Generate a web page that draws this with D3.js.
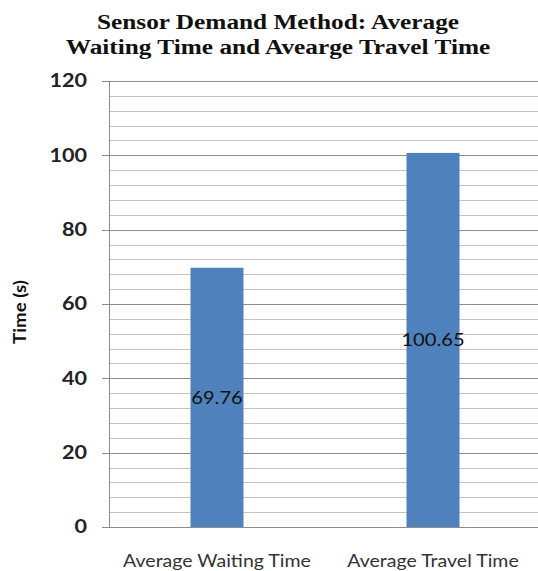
<!DOCTYPE html>
<html lang="en">
<head>
<meta charset="UTF-8">
<title>Sensor Demand Method</title>
<script src="https://d3js.org/d3.v7.min.js"></script>
<style>
    body { margin: 0; background: #fff; }
    .title { font-family: "Liberation Serif", serif; font-weight: bold; font-size: 22px; fill: #111; }
    .ytick { font-family: Lato, "Open Sans", sans-serif; font-weight: bold; font-size: 18px; fill: #222; }
    .xtick { font-family: Lato, "Open Sans", sans-serif; font-size: 17px; fill: #333; }
    .vlabel { font-family: Lato, "Open Sans", sans-serif; font-size: 18px; fill: #111; }
</style>
</head>
<body>
<svg width="538" height="571"></svg>
<script>
    // data
    const categories = ["Average Waiting Time", "Average Travel Time"];
    const values = [69.76, 100.65];
    const yTicks = [0, 20, 40, 60, 80, 100, 120];
    const titleLines = ["Sensor Demand Method: Average", "Waiting Time and Avearge Travel Time"];

    const svg = d3.select("svg");
    const plotLeft = 109, plotRight = 541, plotTop = 81, plotBottom = 527;
    const sx = 1.15; // the original picture is a bit stretched sideways

    const y = d3.scaleLinear().domain([0, 120]).range([plotBottom, plotTop]);
    const x = d3.scaleBand().domain(categories).range([plotLeft, plotRight]).paddingInner(0).paddingOuter(0);
    const barW = 53;

    // minor gridlines every 4
    const minor = d3.range(4, 121, 4).filter(v => v % 20 !== 0);
    svg.append("g").selectAll("line").data(minor).enter().append("line")
        .attr("x1", plotLeft).attr("x2", plotRight)
        .attr("y1", d => Math.round(y(d)) + 0.5).attr("y2", d => Math.round(y(d)) + 0.5)
        .attr("stroke", "#c4c4c4").attr("stroke-width", 1);

    // major gridlines
    svg.append("g").selectAll("line").data(yTicks.filter(d => d > 0)).enter().append("line")
        .attr("x1", plotLeft - 7).attr("x2", plotRight)
        .attr("y1", d => Math.round(y(d)) + 0.5).attr("y2", d => Math.round(y(d)) + 0.5)
        .attr("stroke", "#8c8c8c").attr("stroke-width", 1);

    // bars
    svg.append("g").selectAll("rect").data(values).enter().append("rect")
        .attr("x", (d, i) => x(categories[i]) + x.bandwidth() / 2 - barW / 2)
        .attr("width", barW)
        .attr("y", d => y(d))
        .attr("height", d => plotBottom - y(d))
        .attr("fill", "#4f81bd");

    // axes lines
    svg.append("line").attr("x1", plotLeft + 0.5).attr("x2", plotLeft + 0.5).attr("y1", plotTop).attr("y2", plotBottom)
        .attr("stroke", "#8c8c8c");
    svg.append("line").attr("x1", plotLeft - 7).attr("x2", plotRight).attr("y1", plotBottom + 0.5).attr("y2", plotBottom + 0.5)
        .attr("stroke", "#8c8c8c");

    // y tick labels
    svg.append("g").selectAll("text").data(yTicks).enter().append("text")
        .attr("class", "ytick")
        .attr("transform", d => `translate(87,${y(d)}) scale(1.2,1)`)
        .attr("dy", "0.35em")
        .attr("text-anchor", "end")
        .text(d => d);

    // x tick labels
    svg.append("g").selectAll("text").data(categories).enter().append("text")
        .attr("class", "xtick")
        .attr("transform", d => `translate(${x(d) + x.bandwidth() / 2},567) scale(${sx},1)`)
        .attr("text-anchor", "middle")
        .text(d => d);

    // value labels, centred in the bar
    svg.append("g").selectAll("text").data(values).enter().append("text")
        .attr("class", "vlabel")
        .attr("transform", (d, i) => `translate(${x(categories[i]) + x.bandwidth() / 2},${(y(d) + plotBottom) / 2}) scale(1.12,1)`)
        .attr("dy", "0.35em")
        .attr("text-anchor", "middle")
        .text(d => d.toFixed(2));

    // title
    svg.append("g").selectAll("text").data(titleLines).enter().append("text")
        .attr("class", "title")
        .attr("transform", (d, i) => `translate(278,${29 + i * 25}) scale(${sx},1)`)
        .attr("text-anchor", "middle")
        .text(d => d);

    // y axis title
    svg.append("text")
        .attr("transform", "translate(26,312) rotate(-90) scale(1.1,1)")
        .attr("text-anchor", "middle")
        .style("font-family", "Lato, sans-serif").style("font-weight", "bold").style("font-size", "17px")
        .attr("fill", "#111")
        .text("Time (s)");
</script>
</body>
</html>
